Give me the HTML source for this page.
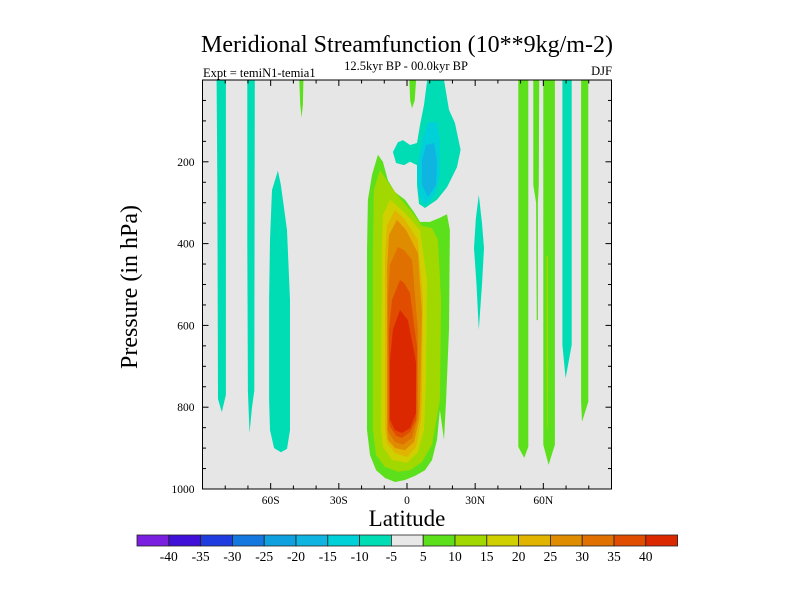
<!DOCTYPE html>
<html><head><meta charset="utf-8"><style>
body{margin:0;background:#fff;width:800px;height:600px;overflow:hidden}
svg{display:block}
text{font-family:"Liberation Serif",serif;fill:#000}
</style></head><body>
<svg id="chart" width="800" height="600" xmlns="http://www.w3.org/2000/svg">
<text x="407" y="52" font-size="24" text-anchor="middle">Meridional Streamfunction (10**9kg/m-2)</text>
<text x="203" y="77" font-size="12.5">Expt = temiN1-temia1</text>
<text x="406" y="70" font-size="12.5" text-anchor="middle">12.5kyr BP - 00.0kyr BP</text>
<text x="612" y="75" font-size="12.5" text-anchor="end">DJF</text>
<text x="0" y="0" font-size="24" text-anchor="middle" transform="translate(137,287) rotate(-90)">Pressure (in hPa)</text>
<text x="407" y="526" font-size="23" text-anchor="middle">Latitude</text>
<g id="plot"></g>
<g id="cbar"></g>
</svg>
<script>
// levels and colors
const levelBounds = [-45,-40,-35,-30,-25,-20,-15,-10,-5,5,10,15,20,25,30,35,40,45];
const levelColors = ["#7a1ee0","#4010d8","#1e3ce0","#1478e0","#0fa0e0","#10b4e0","#00d0d8","#00dcb4","#e8e8e8","#5ce01c","#a0d800","#d0d000","#e0b400","#e08c00","#e07000","#e04c00","#dc2800"];
const cbarLabels = [-40,-35,-30,-25,-20,-15,-10,-5,5,10,15,20,25,30,35,40];
const xTickLats = [-60,-30,0,30,60];
const xTickLabels = ["60S","30S","0","30N","60N"];
const yTickVals = [200,400,600,800,1000];
// contour regions: value (band edge nearest zero) and outline in [lat, pressure]
const regionValues = [-5,-5,-5,5,-5,5,5,5,10,-5,5,5,-5,-10,-15,5,10,15,20,25,30,35,40];
const regionOutlines = [
 [[-83.8,0],[-79.7,0],[-79.7,770],[-81.5,812],[-83.2,780],[-83.5,240]],
 [[-70.3,0],[-67,0],[-67.2,760],[-68.2,800],[-69.3,863],[-70.0,760],[-70.3,400]],
 [[-56.8,222],[-59.4,269],[-60.3,391],[-60.7,538],[-60.7,782],[-60.3,856],[-58.5,900],[-55.5,910],[-52.8,902],[-51.5,856],[-51.5,538],[-52.8,367],[-54.6,293],[-55.5,257]],
 [[-47.4,0],[-45.6,0],[-45.8,60],[-46.4,92],[-47.0,60]],
 [[31.6,281],[33.0,350],[33.9,411],[33.0,500],[31.6,611],[30.6,500],[29.5,411],[30.3,340]],
 [[49.0,0],[53.4,0],[53.4,897],[51.6,924],[49.0,897]],
 [[55.6,0],[58.2,0],[58.0,257],[57.6,300],[57.6,587],[57.1,587],[56.8,300],[55.6,257]],
 [[60.0,0],[65.1,0],[65.1,892],[62.3,941],[60.0,892]],
 [[61.4,430],[62.0,430],[62.1,700],[61.9,851],[61.6,851],[61.4,700]],
 [[68.4,0],[72.5,0],[72.5,648],[69.8,729],[68.4,648]],
 [[76.6,0],[79.8,0],[79.8,787],[77.0,836],[76.6,787]],
 [[1.0,0],[4.0,0],[3.4,50],[2.2,69],[1.4,50]],
 [[8.9,0],[16.3,0],[18.5,73],[21.1,105],[23.6,171],[22.0,213],[17.6,262],[13.2,293],[7.9,313],[5.3,303],[4.4,257],[4.4,208],[1.3,200],[-1.3,208],[-4.8,203],[-6.2,176],[-4.0,152],[-1.8,147],[1.3,159],[4.4,154],[5.7,110],[7.5,61]],
 [[9.2,103],[13.2,103],[14.5,147],[14.5,232],[12.3,281],[7.9,306],[5.3,281],[4.4,220],[6.6,147]],
 [[8.4,159],[11.9,154],[13.2,196],[12.8,257],[9.2,286],[6.6,257],[6.6,196]],
 [[-12.8,183],[-15.4,232],[-17.2,293],[-17.6,416],[-17.6,856],[-16.3,917],[-13.6,954],[-9.7,973],[-5.3,983],[-0.9,978],[3.5,968],[7.9,954],[11.0,929],[13.2,880],[14.5,807],[16.3,880],[17.2,782],[18.5,611],[18.9,367],[17.6,328],[14.5,337],[10.1,347],[5.7,347],[3.1,323],[-0.9,293],[-5.3,274],[-8.4,245],[-10.6,200]],
 [[-11.9,220],[-14.6,269],[-15.0,416],[-15.0,856],[-13.6,917],[-9.7,946],[-4.0,958],[1.3,954],[6.6,934],[11.0,892],[14.5,782],[15.0,538],[13.6,391],[11.0,362],[6.6,357],[2.2,323],[-3.1,289],[-7.5,257]],
 [[-7.5,293],[-10.6,330],[-11.1,416],[-11.4,856],[-10.6,897],[-6.6,929],[0,936],[4.8,910],[7.5,856],[8.4,734],[8.8,489],[5.7,367],[-0.9,325]],
 [[-5.3,318],[-8.8,355],[-9.7,440],[-9.7,856],[-8.8,888],[-5.3,912],[0,922],[4.0,897],[6.2,831],[6.6,775],[7.0,531],[4.8,391],[-0.9,342]],
 [[-4.4,342],[-7.9,379],[-8.8,465],[-8.8,856],[-8.4,880],[-5.3,900],[-0.9,905],[3.1,885],[5.3,831],[5.7,800],[6.6,570],[4.8,423],[-0.4,367]],
 [[-4.0,408],[-7.5,452],[-8.4,538],[-8.4,856],[-7.9,863],[-5.3,885],[-1.8,892],[2.2,875],[4.4,831],[4.8,814],[4.8,611],[2.2,440],[-1.3,416]],
 [[-3.1,489],[-6.6,538],[-7.9,611],[-7.9,831],[-7.5,848],[-4.8,870],[-2.2,875],[1.3,861],[4.0,831],[4.4,653],[1.3,521],[-1.3,496]],
 [[-3.1,562],[-6.2,611],[-7.5,685],[-7.5,831],[-5.3,856],[-2.2,863],[1.3,851],[4.0,814],[4.0,692],[0.4,587]]
];
const NS="http://www.w3.org/2000/svg";
const X0=202.5,X1=611.5,Y0=80,Y1=489;
function xs(lat){return X0+(lat+90)/180*(X1-X0);}
function ys(p){return Y0+p/1000*(Y1-Y0);}
function colorFor(v){
  const q = v<0 ? v-0.01 : v+0.01;
  for(let i=0;i<levelBounds.length-1;i++){if(q>=levelBounds[i]&&q<levelBounds[i+1])return levelColors[i];}
  return levelColors[levelColors.length-1];
}
function mk(tag,attrs,parent){const e=document.createElementNS(NS,tag);for(const k in attrs)e.setAttribute(k,attrs[k]);parent.appendChild(e);return e;}
const plot=document.getElementById('plot');
const bg=mk('rect',{x:X0,y:Y0,width:X1-X0,height:Y1-Y0,fill:'#e6e6e6'},plot);


const cp=mk('clipPath',{id:'clip'},plot);mk('rect',{x:X0,y:Y0,width:X1-X0,height:Y1-Y0},cp);
const rg=mk('g',{'clip-path':'url(#clip)'},plot);
regionOutlines.forEach((pts,i)=>{
  const d=pts.map(q=>xs(q[0]).toFixed(1)+','+ys(q[1]).toFixed(1)).join(' ');
  const pg=mk('polygon',{points:d,fill:colorFor(regionValues[i])},rg);
  
  
});
// ticks
const tg=mk('g',{stroke:'#000','stroke-width':1},plot);
for(let lat=-90;lat<=90;lat+=10){
  const len=(lat%30===0)?6:3.5;const x=xs(lat);
  mk('line',{x1:x,y1:Y1,x2:x,y2:Y1-len},tg);mk('line',{x1:x,y1:Y0,x2:x,y2:Y0+len},tg);
}
for(let p=0;p<=1000;p+=50){
  const len=(p%200===0)?6:3.5;const y=ys(p);
  mk('line',{x1:X0,y1:y,x2:X0+len,y2:y},tg);mk('line',{x1:X1,y1:y,x2:X1-len,y2:y},tg);
}
const fr=mk('rect',{x:X0,y:Y0,width:X1-X0,height:Y1-Y0,fill:'none',stroke:'#000','stroke-width':1},plot);


xTickLats.forEach((lat,i)=>{
  const t=mk('text',{x:xs(lat),y:Y1+15,'font-size':11.5,'text-anchor':'middle'},plot);t.textContent=xTickLabels[i];
  
  
});
yTickVals.forEach(v=>{
  const t=mk('text',{x:X0-8,y:ys(v)+4,'font-size':11.5,'text-anchor':'end'},plot);t.textContent=String(v);
  
  
});
// colorbar
const cb=document.getElementById('cbar');
const CX0=137,CW=31.8,CY=535,CH=11;
levelColors.forEach((c,i)=>{
  const r=mk('rect',{x:CX0+i*CW,y:CY,width:CW,height:CH,fill:c,stroke:'#222','stroke-width':0.8},cb);
  
  
});
cbarLabels.forEach((v,i)=>{
  const t=mk('text',{x:CX0+(i+1)*CW,y:561,'font-size':13.5,'text-anchor':'middle'},cb);t.textContent=String(v);
  
  
});
</script>
</body></html>
